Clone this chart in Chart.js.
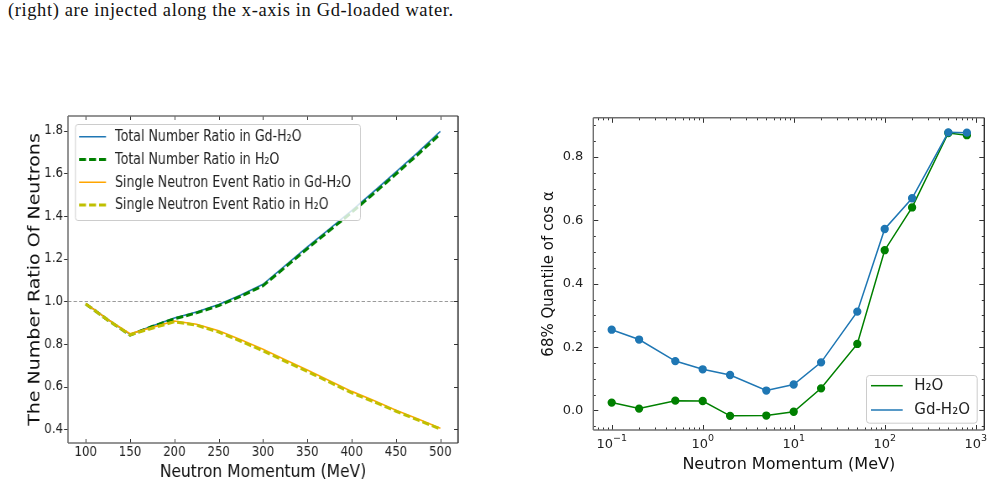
<!DOCTYPE html>
<html>
<head>
<meta charset="utf-8">
<script src="https://cdn.jsdelivr.net/npm/chart.js@4"></script>
<style>
  html, body { margin: 0; padding: 0; background: #fff; }
  body { width: 993px; height: 486px; position: relative; overflow: hidden; }
  .caption { position: absolute; left: 8px; top: 1px; font: 18.5px/18.5px 'Liberation Serif', serif; letter-spacing: 0.6px; color: #111; white-space: nowrap; }
  /* left figure is squeezed horizontally in the source, so draw it wider and scale it */
  #ratioChart { position: absolute; left: 0; top: 100px; transform: scaleX(0.8392); transform-origin: 0 0; }
  #quantileChart { position: absolute; left: 530px; top: 100px; }
</style>
</head>
<body>
<div class="caption">(right) are injected along the x-axis in Gd-loaded water.</div>
<canvas id="ratioChart" width="572" height="386"></canvas>
<canvas id="quantileChart" width="463" height="386"></canvas>
<script>
// left panel: neutron number ratio vs momentum
const momentum = [100, 125, 150, 175, 200, 225, 250, 275, 300, 325, 350, 375, 400, 425, 450, 475, 500];
const totalGd = [0.99, 0.915, 0.845, 0.885, 0.922, 0.95, 0.985, 1.03, 1.08, 1.168, 1.255, 1.34, 1.425, 1.515, 1.607, 1.70, 1.797];
const totalH2O = [0.988, 0.912, 0.842, 0.882, 0.918, 0.946, 0.98, 1.024, 1.073, 1.16, 1.247, 1.332, 1.417, 1.506, 1.597, 1.69, 1.785];
const singleGd = [0.99, 0.915, 0.848, 0.878, 0.908, 0.893, 0.862, 0.82, 0.775, 0.726, 0.678, 0.628, 0.578, 0.535, 0.49, 0.448, 0.405];
const singleH2O = [0.988, 0.912, 0.843, 0.874, 0.904, 0.888, 0.856, 0.813, 0.768, 0.719, 0.671, 0.621, 0.571, 0.529, 0.485, 0.443, 0.402];
const ratioXTicks = [100, 150, 200, 250, 300, 350, 400, 450, 500];
const ratioYTicks = [0.4, 0.6, 0.8, 1.0, 1.2, 1.4, 1.6, 1.8];
const refLevel = 1.0;

// right panel: 68% quantile of cos alpha
const momentumLog = [0.1, 0.2, 0.5, 1, 2, 5, 10, 20, 50, 100, 200, 500, 800];
const quantileH2O = [0.025, 0.006, 0.031, 0.030, -0.017, -0.016, -0.004, 0.070, 0.210, 0.506, 0.641, 0.876, 0.869];
const quantileGd = [0.255, 0.224, 0.156, 0.130, 0.112, 0.063, 0.082, 0.152, 0.312, 0.573, 0.670, 0.878, 0.877];
const logXTicks = [0.1, 1, 10, 100, 1000];
const logXExps = ['\u22121', '0', '1', '2', '3'];
const quantileYTicks = [0, 0.2, 0.4, 0.6, 0.8];

const sans = "'DejaVu Sans', sans-serif";

const pairs = (xs, ys) => xs.map((x, i) => ({ x, y: ys[i] }));

// minor ticks for the log axis and the quantile axis
const logMinor = [];
[0.01, 0.1, 1, 10, 100, 1000].forEach(d => {
  for (let k = 2; k <= 9; k++) logMinor.push(d * k);
});
const quantileMinor = [];
for (let v = -0.05; v < 0.93; v += 0.05) quantileMinor.push(Math.round(v * 100) / 100);

// frame + tick marks drawn on the chart area edges
const frameTicks = {
  id: 'frameTicks',
  afterDatasetsDraw(chart, args, o) {
    const { ctx, chartArea: a } = chart;
    const xs = chart.scales.x, ys = chart.scales.y;
    const inX = v => { const p = xs.getPixelForValue(v); return p >= a.left - 0.5 && p <= a.right + 0.5 ? Math.round(p) + 0.5 : null; };
    const inY = v => { const p = ys.getPixelForValue(v); return p >= a.top - 0.5 && p <= a.bottom + 0.5 ? Math.round(p) + 0.5 : null; };
    const hs = o.hScale || 1;
    ctx.save();
    ctx.strokeStyle = o.tickColor;
    ctx.lineWidth = 1;
    const mark = (x1, y1, x2, y2) => { ctx.beginPath(); ctx.moveTo(x1, y1); ctx.lineTo(x2, y2); ctx.stroke(); };
    const xMarks = (vals, len) => vals.forEach(v => {
      const p = inX(v); if (p === null) return;
      mark(p, a.bottom, p, a.bottom - len);
      mark(p, a.top, p, a.top + len);
    });
    const yMarks = (vals, len) => vals.forEach(v => {
      const p = inY(v); if (p === null) return;
      const l = len * hs;
      if (o.leftOut) mark(a.left, p, a.left - l, p); else mark(a.left, p, a.left + l, p);
      mark(a.right, p, a.right - l, p);
    });
    xMarks(o.xMajor, o.major);
    xMarks(o.xMinor || [], o.minor);
    yMarks(o.yMajor, o.major);
    yMarks(o.yMinor || [], o.minor);
    // spines
    ctx.lineWidth = o.spineWidth;
    ctx.strokeStyle = o.spineSoft;
    mark(a.left, a.top, a.left, a.bottom);
    mark(a.left, a.bottom, a.right, a.bottom);
    mark(a.left, a.top, a.right, a.top);
    ctx.strokeStyle = o.spineDark;
    mark(a.right, a.top, a.right, a.bottom);
    ctx.restore();
  }
};

// horizontal dashed reference line at ratio 1
const refLine = {
  id: 'refLine',
  beforeDatasetsDraw(chart, args, o) {
    if (!o.enabled) return;
    const { ctx, chartArea: a } = chart;
    const y = Math.round(chart.scales.y.getPixelForValue(o.value)) + 0.5;
    ctx.save();
    ctx.strokeStyle = '#808080';
    ctx.lineWidth = 0.8;
    ctx.setLineDash([4.2, 2.4]);
    ctx.beginPath(); ctx.moveTo(a.left, y); ctx.lineTo(a.right, y); ctx.stroke();
    ctx.restore();
  }
};

// 10^n tick labels for the log axis
const powerLabels = {
  id: 'powerLabels',
  afterDraw(chart, args, o) {
    if (!o.enabled) return;
    const { ctx, chartArea: a } = chart;
    const xs = chart.scales.x;
    ctx.save();
    ctx.fillStyle = '#222';
    ctx.textBaseline = 'alphabetic';
    ctx.textAlign = 'left';
    o.values.forEach((v, i) => {
      ctx.font = o.size + 'px ' + sans;
      const bw = ctx.measureText('10').width;
      ctx.font = o.expSize + 'px ' + sans;
      const ew = ctx.measureText(o.exps[i]).width;
      const x0 = xs.getPixelForValue(v) - (bw + ew) / 2;
      const y = a.bottom + o.offset;
      ctx.font = o.size + 'px ' + sans;
      ctx.fillText('10', x0, y);
      ctx.font = o.expSize + 'px ' + sans;
      ctx.fillText(o.exps[i], x0 + bw, y - o.raise);
    });
    ctx.restore();
  }
};

// matplotlib style legend box inside the axes
const boxLegend = {
  id: 'boxLegend',
  afterDatasetsDraw(chart, args, o) {
    const ctx = chart.ctx;
    ctx.save();
    ctx.fillStyle = 'rgba(255,255,255,0.8)';
    ctx.strokeStyle = '#cccccc';
    ctx.lineWidth = 1;
    ctx.beginPath();
    ctx.roundRect(o.x + 0.5, o.y + 0.5, o.w, o.h, 3);
    ctx.fill(); ctx.stroke();
    ctx.font = o.font;
    ctx.textBaseline = 'middle';
    o.order.forEach((idx, row) => {
      const ds = chart.data.datasets[idx];
      const y = o.y + o.first + row * o.gap;
      ctx.strokeStyle = ds.borderColor;
      ctx.lineWidth = ds.borderWidth;
      ctx.setLineDash(ds.borderDash || []);
      ctx.beginPath(); ctx.moveTo(o.x + o.lineX0, y); ctx.lineTo(o.x + o.lineX1, y); ctx.stroke();
      ctx.setLineDash([]);
      ctx.fillStyle = '#222';
      ctx.fillText(ds.label, o.x + o.textX, y + 0.5);
    });
    ctx.restore();
  }
};

Chart.register(frameTicks, refLine, powerLabels, boxLegend);

new Chart(document.getElementById('ratioChart'), {
  type: 'line',
  data: {
    datasets: [
      { label: 'Total Number Ratio in Gd-H\u2082O', data: pairs(momentum, totalGd), borderColor: '#1f77b4', borderWidth: 1.6, order: 4 },
      { label: 'Total Number Ratio in H\u2082O', data: pairs(momentum, totalH2O), borderColor: '#008000', borderWidth: 3, borderDash: [8.3, 3.6], order: 3 },
      { label: 'Single Neutron Event Ratio in Gd-H\u2082O', data: pairs(momentum, singleGd), borderColor: '#ffa500', borderWidth: 1.6, order: 2 },
      { label: 'Single Neutron Event Ratio in H\u2082O', data: pairs(momentum, singleH2O), borderColor: '#bfbf00', borderWidth: 3, borderDash: [8.3, 3.6], order: 1 }
    ]
  },
  options: {
    responsive: false,
    animation: false,
    events: [],
    layout: { padding: { top: 16, right: 26.2, left: 0, bottom: 0 } },
    elements: { point: { radius: 0 }, line: { tension: 0, borderCapStyle: 'butt' } },
    scales: {
      x: {
        type: 'linear', min: 80, max: 520,
        afterBuildTicks: s => { s.ticks = ratioXTicks.map(v => ({ value: v })); },
        afterFit: s => { s.height = 43; },
        grid: { display: false, drawTicks: false },
        border: { display: false },
        ticks: { color: '#222', padding: 0.9, maxRotation: 0, font: { family: sans, size: 14 }, callback: v => String(v) },
        title: { display: true, text: 'Neutron Momentum (MeV)', color: '#111', font: { family: sans, size: 18.5 }, padding: { top: 0, bottom: 3.2 } }
      },
      y: {
        type: 'linear', min: 0.336, max: 1.869,
        afterBuildTicks: s => { s.ticks = ratioYTicks.map(v => ({ value: v })); },
        afterFit: s => { s.width = 81; },
        grid: { display: false, drawTicks: false },
        border: { display: false },
        ticks: { color: '#222', padding: 5.9, font: { family: sans, size: 14 }, callback: v => v.toFixed(1) },
        title: { display: true, text: 'The Number Ratio Of Neutrons', color: '#111', font: { family: sans, size: 19 }, padding: { top: 30.3, bottom: 0 } }
      }
    },
    plugins: {
      legend: { display: false },
      tooltip: { enabled: false },
      refLine: { enabled: true, value: refLevel },
      powerLabels: { enabled: false },
      frameTicks: { xMajor: ratioXTicks, yMajor: ratioYTicks, major: 4, minor: 2, hScale: 1.19, leftOut: true, tickColor: '#333', spineWidth: 1.7, spineSoft: '#707070', spineDark: '#333' },
      boxLegend: { x: 89.4, y: 24, w: 339.6, h: 96, first: 12.7, gap: 22.8, lineX0: 4.8, lineX1: 36.9, textX: 47.7, font: "15px " + sans, order: [0, 1, 2, 3] }
    }
  }
});

new Chart(document.getElementById('quantileChart'), {
  type: 'line',
  data: {
    datasets: [
      { label: 'H\u2082O', data: pairs(momentumLog, quantileH2O), borderColor: '#008000', backgroundColor: '#008000', borderWidth: 1.5, order: 2 },
      { label: 'Gd-H\u2082O', data: pairs(momentumLog, quantileGd), borderColor: '#1f77b4', backgroundColor: '#1f77b4', borderWidth: 1.5, order: 1 }
    ]
  },
  options: {
    responsive: false,
    animation: false,
    events: [],
    layout: { padding: { top: 14.7, right: 8.7, left: 0, bottom: 0 } },
    elements: { point: { radius: 3.4, borderWidth: 0 }, line: { tension: 0 } },
    scales: {
      x: {
        type: 'logarithmic', min: 0.0628, max: 1243,
        afterBuildTicks: s => { s.ticks = logXTicks.map(v => ({ value: v })); },
        afterFit: s => { s.height = 56; },
        grid: { display: false, drawTicks: false },
        border: { display: false },
        ticks: { display: false },
        title: { display: true, text: 'Neutron Momentum (MeV)', color: '#111', font: { family: sans, size: 16 }, padding: { top: 0, bottom: 11.4 } }
      },
      y: {
        type: 'linear', min: -0.0616, max: 0.924,
        afterBuildTicks: s => { s.ticks = quantileYTicks.map(v => ({ value: v })); },
        afterFit: s => { s.width = 63.3; },
        grid: { display: false, drawTicks: false },
        border: { display: false },
        ticks: { color: '#222', padding: 10, font: { family: sans, size: 13 }, callback: v => v.toFixed(1) },
        title: { display: true, text: '68% Quantile of cos \u03B1', color: '#111', font: { family: sans, size: 15 }, padding: { top: 10, bottom: 0 } }
      }
    },
    plugins: {
      legend: { display: false },
      tooltip: { enabled: false },
      refLine: { enabled: false },
      powerLabels: { enabled: true, values: logXTicks, exps: logXExps, size: 13, expSize: 9.5, offset: 17.5, raise: 6.5 },
      frameTicks: { xMajor: logXTicks, xMinor: logMinor, yMajor: quantileYTicks, yMinor: quantileMinor, major: 5, minor: 2.5, leftOut: false, tickColor: '#333', spineWidth: 1.4, spineSoft: '#707070', spineDark: '#333' },
      boxLegend: { x: 336, y: 275, w: 110.7, h: 47.7, first: 10.7, gap: 24.3, lineX0: 5, lineX1: 36.7, textX: 48.3, font: "15px " + sans, order: [0, 1] }
    }
  }
});
</script>
</body>
</html>
